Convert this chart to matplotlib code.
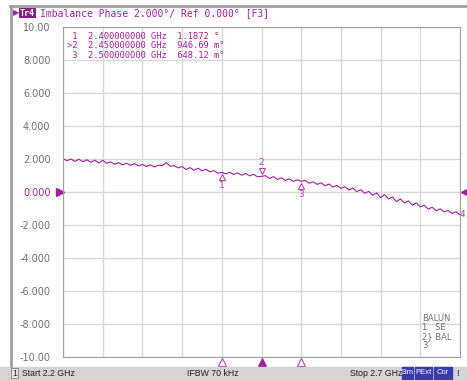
import numpy as np
import matplotlib.pyplot as plt
import matplotlib.transforms as mtransforms
from matplotlib.patches import Rectangle

# trace data (GHz, degrees)
freq = np.round(np.arange(2.2, 2.7001, 0.005), 3)
phase = [
    2.02, 1.90, 2.00, 1.86, 1.98, 1.84, 1.95, 1.80, 1.93, 1.76,
    1.92, 1.74, 1.82, 1.68, 1.78, 1.64, 1.75, 1.62, 1.72, 1.58,
    1.67, 1.55, 1.64, 1.52, 1.62, 1.60, 1.78, 1.56, 1.60, 1.46,
    1.55, 1.36, 1.48, 1.32, 1.44, 1.28, 1.38, 1.22, 1.30, 1.14,
    1.19, 1.10, 1.20, 1.06, 1.16, 1.02, 1.12, 0.98, 1.08, 0.92,
    0.95, 0.99, 0.82, 0.93, 0.76, 0.86, 0.70, 0.80, 0.64, 0.74,
    0.65, 0.70, 0.53, 0.62, 0.46, 0.56, 0.38, 0.48, 0.30, 0.40,
    0.22, 0.32, 0.12, 0.24, 0.02, 0.14, -0.08, 0.04, -0.20, -0.06,
    -0.34, -0.16, -0.42, -0.30, -0.58, -0.42, -0.66, -0.54, -0.80, -0.66,
    -0.90, -0.80, -1.04, -0.92, -1.14, -1.02, -1.20, -1.12, -1.30, -1.20,
    -1.38,
]
marker_freq = [2.40, 2.45, 2.50]
marker_val = [1.1872, 0.94669, 0.64812]
marker_lines = [
    " 1  2.400000000 GHz  1.1872 °",
    ">2  2.450000000 GHz  946.69 m°",
    " 3  2.500000000 GHz  648.12 m°",
]
yticks = [-10, -8, -6, -4, -2, 0, 2, 4, 6, 8, 10]
ylabels = ["-10.00", "-8.000", "-6.000", "-4.000", "-2.000", "0.000",
           "2.000", "4.000", "6.000", "8.000", "10.00"]

PURPLE = "#a020a0"
MAG = "#c040c0"
GRAY = "#707070"
W, H = 467, 380

fig = plt.figure(figsize=(W / 100, H / 100), dpi=100)
fig.patch.set_facecolor("white")


def fx(x):
    return x / W


def fy(y):
    return 1 - y / H


# window frame and status bar
fig.add_artist(plt.Line2D([fx(10), fx(467)], [fy(6), fy(6)], color="#a0a0a0", lw=2))
fig.add_artist(plt.Line2D([fx(11), fx(11)], [fy(6), fy(366)], color="#a0a0a0", lw=2))
fig.add_artist(Rectangle((0, 0), 1, 13 / H, color="#d4d4d4", transform=fig.transFigure))

ax = fig.add_axes([fx(63), fy(357), 397 / W, 330 / H])
ax.set_xlim(2.2, 2.7)
ax.set_ylim(-10, 10)
ax.set_xticks(np.linspace(2.2, 2.7, 11))
ax.set_yticks(yticks)
ax.set_yticklabels(ylabels, fontsize=7)
ax.tick_params(length=0, labelbottom=False, pad=9)
for lab in ax.get_yticklabels():
    lab.set_color(PURPLE if lab.get_text() == "0.000" else GRAY)
ax.grid(color="#d8d8d8", lw=1)
for sp in ax.spines.values():
    sp.set_color("#a0a0a0")

ax.plot(freq, phase, color=PURPLE, lw=0.8)

# marker symbols on the trace
for i, (f, v) in enumerate(zip(marker_freq, marker_val)):
    up = i == 1
    off = 5 if up else -5
    tr = mtransforms.offset_copy(ax.transData, fig=fig, y=off, units="dots")
    ax.plot([f], [v], marker="v" if up else "^", ms=5, mfc="white",
            mec=MAG, mew=0.8, transform=tr)
    ax.text(f, v, str(i + 1), color=MAG, fontsize=6.5, ha="center",
            va="bottom" if up else "top",
            transform=mtransforms.offset_copy(ax.transData, fig=fig,
                                              y=9 if up else -9, units="dots"))
ax.text(2.7, phase[-1], "4", color=MAG, fontsize=6.5, ha="left", va="center")

# markers under the x axis
btr = mtransforms.offset_copy(ax.get_xaxis_transform(), fig=fig, y=-5, units="dots")
for i, f in enumerate(marker_freq):
    ax.plot([f], [0], marker="^", ms=6, mfc=PURPLE if i == 1 else "white",
            mec=MAG if i != 1 else PURPLE, mew=0.8, transform=btr, clip_on=False)

# reference level arrows
ax.plot([2.2], [0], marker=">", ms=6, color=PURPLE, clip_on=False,
        transform=mtransforms.offset_copy(ax.transData, fig=fig, x=-3, units="dots"))
ax.plot([2.7], [0], marker="<", ms=6, color=PURPLE, clip_on=False,
        transform=mtransforms.offset_copy(ax.transData, fig=fig, x=5, units="dots"))

# marker table
ax.text(0.01, 0.985, "\n".join(marker_lines), transform=ax.transAxes,
        family="DejaVu Sans Mono", fontsize=6.3, color=PURPLE, va="top",
        ha="left", linespacing=1.05)

# BALUN legend
ax.text(0.905, 0.13, "BALUN\n1   SE\n2} BAL\n3", transform=ax.transAxes,
        fontsize=6, color=GRAY, va="top", ha="left", linespacing=1.0)

# title
fig.text(fx(13), fy(13), "\u25B6", color=PURPLE, fontsize=6, va="center")
fig.text(fx(20), fy(13), "Tr4", color="white", fontsize=6, va="center",
         family="DejaVu Sans Mono", fontweight="bold",
         bbox=dict(boxstyle="square,pad=0.1", fc="#802080", ec="none"))
fig.text(fx(40), fy(13), "Imbalance Phase 2.000°/ Ref 0.000° [F3]",
         color=PURPLE, fontsize=7, va="center", family="DejaVu Sans Mono")

# status bar
SB = 6.3
SF = "Liberation Sans"
fig.text(fx(12), fy(373), "1", fontsize=SB, va="center", color="#202020", family=SF,
         bbox=dict(boxstyle="square,pad=0.1", fc="#e8e8e8", ec="#808080", lw=0.6))
fig.text(fx(22), fy(373), "Start 2.2 GHz", fontsize=SB, va="center", color="#202020", family=SF)
fig.text(fx(187), fy(373), "IFBW 70 kHz", fontsize=SB, va="center", color="#202020", family=SF)
fig.text(fx(350), fy(373), "Stop 2.7 GHz", fontsize=SB, va="center", color="#202020", family=SF)
for x0, w, s in [(402, 11, "Sim"), (415, 17, "PExt"), (434, 18, "Cor")]:
    fig.add_artist(Rectangle((fx(x0), fy(379)), w / W, 12 / H, color="#3a3aa8",
                             transform=fig.transFigure))
    fig.text(fx(x0 + w / 2), fy(373), s, fontsize=5.5, ha="center", va="center",
             color="white", family=SF)
fig.text(fx(456), fy(373), "!", fontsize=SB, va="center", color="#202020", family=SF)

fig.savefig("out.png", dpi=100)
